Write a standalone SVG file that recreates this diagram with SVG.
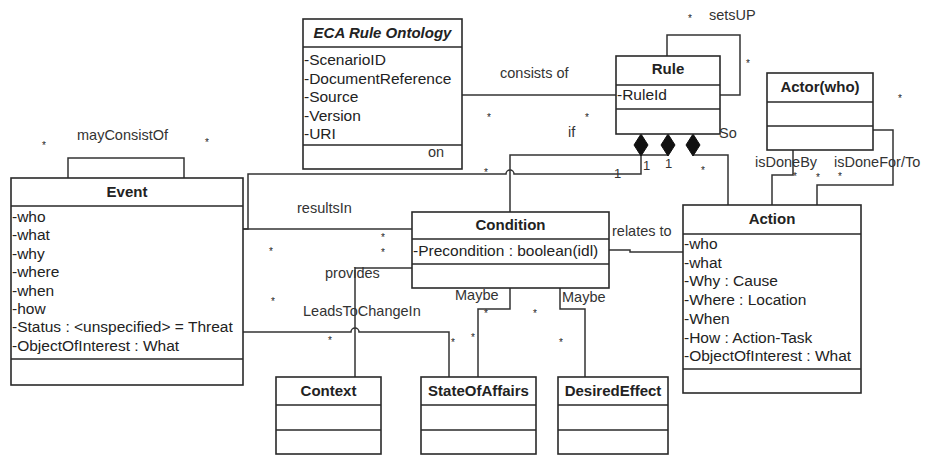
<svg xmlns="http://www.w3.org/2000/svg" width="925" height="455" viewBox="0 0 925 455">
<style>
.box{fill:#fff;stroke:#2a2a2a;stroke-width:1.6}
.sep{stroke:#2a2a2a;stroke-width:1.6}
.ln{fill:none;stroke:#333;stroke-width:1.5}
.dia{fill:#111;stroke:#111;stroke-width:1}
text{font-family:"Liberation Sans",Arial,sans-serif;fill:#222}
.t{font-size:15px;font-weight:bold;text-anchor:middle}
.ti{font-size:15px;font-weight:bold;font-style:italic;text-anchor:middle}
.a{font-size:15.5px}
.lb{font-size:14.5px;fill:#333}
.st{font-size:10px;fill:#444;text-anchor:middle}
.one{font-size:13px;fill:#333}
</style>
<rect width="925" height="455" fill="#fff"/>
<g id="connectors">
<path class="ln" d="M462,95 H616"/>
<path class="ln" d="M667,56 V35 H740 V95 H720"/>
<path class="ln" d="M68,178 V158 H184 V178"/>
<path class="ln" d="M243,229 H248 V174 H506 A4 4 0 0 1 514 174 H641 V156"/>
<path class="ln" d="M243,229 H412"/>
<path class="ln" d="M668,155 H510 V212"/>
<path class="ln" d="M693,155 H728 V205"/>
<path class="ln" d="M793,150 V175 H772 V205"/>
<path class="ln" d="M873,130 H893 V185 H817 V205"/>
<path class="ln" d="M609,250 H630 V252 H683"/>
<path class="ln" d="M412,268 H355 V377"/>
<path class="ln" d="M243,332 H351 A4 4 0 0 1 359 332 H449 V377"/>
<path class="ln" d="M510,288 V309 H478 V377"/>
<path class="ln" d="M560,288 V309 H585 V377"/>
<polygon class="dia" points="641,134 648,145 641,156 634,145"/>
<polygon class="dia" points="668,134 675,145 668,156 661,145"/>
<polygon class="dia" points="693,134 700,145 693,156 686,145"/>
<text class="lb" x="500" y="78">consists of</text>
<text class="lb" x="709" y="20">setsUP</text>
<text class="lb" x="568" y="137">if</text>
<text class="lb" x="719" y="138">So</text>
<text class="lb" x="77" y="140">mayConsistOf</text>
<text class="lb" x="297" y="213">resultsIn</text>
<text class="lb" x="612" y="236">relates to</text>
<text class="lb" x="325" y="278">provides</text>
<text class="lb" x="303" y="316">LeadsToChangeIn</text>
<text class="lb" x="455" y="300">Maybe</text>
<text class="lb" x="562" y="302">Maybe</text>
<text class="lb" x="755" y="167">isDoneBy</text>
<text class="lb" x="834" y="167">isDoneFor/To</text>
<text class="one" x="614" y="178">1</text>
<text class="one" x="643" y="170">1</text>
<text class="one" x="665" y="168">1</text>
<g class="st">
<text x="44" y="149">*</text>
<text x="207" y="146">*</text>
<text x="223" y="186">*</text>
<text x="690" y="22">*</text>
<text x="748" y="67">*</text>
<text x="489" y="121">*</text>
<text x="587" y="121">*</text>
<text x="486" y="176">*</text>
<text x="703" y="174">*</text>
<text x="795" y="180">*</text>
<text x="818" y="181">*</text>
<text x="840" y="180">*</text>
<text x="900" y="102">*</text>
<text x="383" y="241">*</text>
<text x="383" y="256">*</text>
<text x="271" y="255">*</text>
<text x="273" y="305">*</text>
<text x="330" y="344">*</text>
<text x="486" y="317">*</text>
<text x="473" y="341">*</text>
<text x="453" y="346">*</text>
<text x="535" y="317">*</text>
<text x="561" y="346">*</text>
</g>
</g>
<g id="eca">
<rect class="box" x="303" y="19" width="159" height="150"/>
<path class="sep" d="M303,47 H462 M303,145 H462"/>
<text class="ti" x="382.5" y="38">ECA Rule Ontology</text>
<text class="a" x="304" y="65">-ScenarioID</text>
<text class="a" x="304" y="84">-DocumentReference</text>
<text class="a" x="304" y="102">-Source</text>
<text class="a" x="304" y="121">-Version</text>
<text class="a" x="304" y="139">-URI</text>
<text class="lb" x="428" y="157">on</text>
</g>
<g id="rule">
<rect class="box" x="616" y="56" width="104" height="78"/>
<path class="sep" d="M616,85 H720 M616,109 H720"/>
<text class="t" x="668" y="74">Rule</text>
<text class="a" x="617" y="100">-RuleId</text>
</g>
<g id="actor">
<rect class="box" x="767" y="73" width="106" height="77"/>
<path class="sep" d="M767,102 H873 M767,126 H873"/>
<text class="t" x="820" y="92">Actor(who)</text>
</g>
<g id="event">
<rect class="box" x="11" y="178" width="232" height="207"/>
<path class="sep" d="M11,206 H243 M11,359 H243"/>
<text class="t" x="127" y="197">Event</text>
<text class="a" x="12" y="222">-who</text>
<text class="a" x="12" y="240.4">-what</text>
<text class="a" x="12" y="258.8">-why</text>
<text class="a" x="12" y="277.2">-where</text>
<text class="a" x="12" y="295.6">-when</text>
<text class="a" x="12" y="314">-how</text>
<text class="a" x="12" y="332.4">-Status : &lt;unspecified&gt; = Threat</text>
<text class="a" x="12" y="350.8">-ObjectOfInterest : What</text>
</g>
<g id="condition">
<rect class="box" x="412" y="212" width="197" height="76"/>
<path class="sep" d="M412,239 H609 M412,264 H609"/>
<text class="t" x="510.5" y="230">Condition</text>
<text class="a" x="413" y="256">-Precondition : boolean(idl)</text>
</g>
<g id="action">
<rect class="box" x="683" y="205" width="178" height="188"/>
<path class="sep" d="M683,234 H861 M683,369 H861"/>
<text class="t" x="772" y="224">Action</text>
<text class="a" x="684" y="249">-who</text>
<text class="a" x="684" y="267.7">-what</text>
<text class="a" x="684" y="286.4">-Why : Cause</text>
<text class="a" x="684" y="305.1">-Where : Location</text>
<text class="a" x="684" y="323.8">-When</text>
<text class="a" x="684" y="342.5">-How : Action-Task</text>
<text class="a" x="684" y="361.2">-ObjectOfInterest : What</text>
</g>
<g id="context">
<rect class="box" x="276" y="377" width="105" height="77"/>
<path class="sep" d="M276,405 H381 M276,430 H381"/>
<text class="t" x="328.5" y="396">Context</text>
</g>
<g id="stateofaffairs">
<rect class="box" x="421" y="377" width="115" height="77"/>
<path class="sep" d="M421,405 H536 M421,430 H536"/>
<text class="t" x="478.5" y="396">StateOfAffairs</text>
</g>
<g id="desiredeffect">
<rect class="box" x="558" y="377" width="110" height="77"/>
<path class="sep" d="M558,405 H668 M558,430 H668"/>
<text class="t" x="613" y="396">DesiredEffect</text>
</g>
</svg>
